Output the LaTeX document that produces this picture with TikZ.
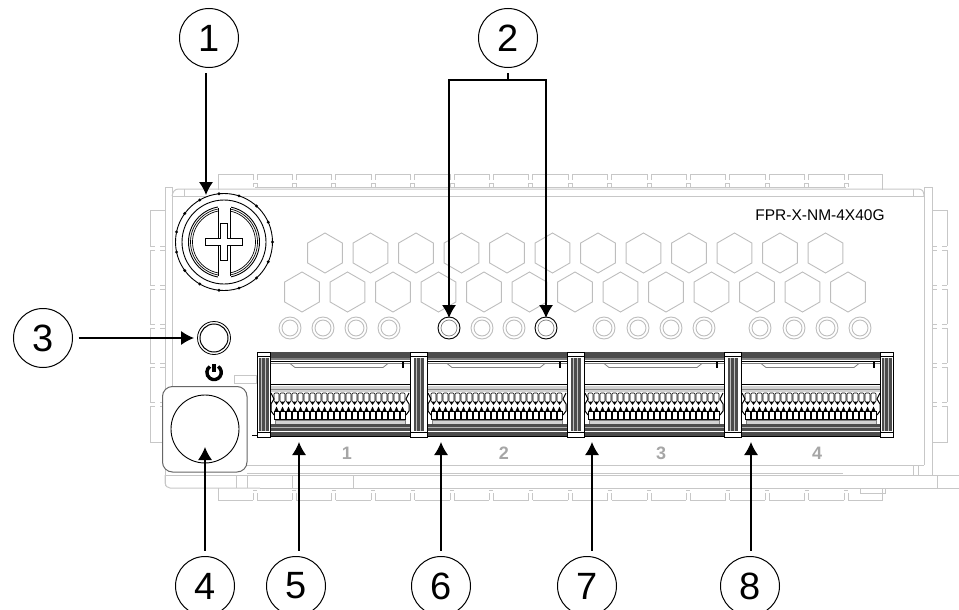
\documentclass[tikz,border=0pt]{standalone}
\usepackage{fontspec}
\setmainfont{Liberation Sans}
\usetikzlibrary{arrows.meta}
\definecolor{framegray}{gray}{0.78}
\definecolor{hexgray}{gray}{0.74}
\definecolor{bargray}{gray}{0.3}
\tikzset{
  callout/.style={draw,circle,minimum size=59pt,inner sep=0pt,line width=1pt,font=\fontsize{38}{38}\selectfont,outer sep=6pt},
  leader/.style={-{Latex[length=13pt,width=14pt]},line width=1.2pt},
  frameline/.style={draw=framegray,line width=1pt},
  hexcell/.style={draw=hexgray,line width=.9pt},
  tooth/.style={draw=black,fill=white,line width=.6pt},
  portnum/.style={text=gray!70,font=\fontsize{18}{18}\selectfont\bfseries}
}
\begin{document}
\begin{tikzpicture}[x=1pt,y=-1pt]
\clip (0,0) rectangle (959,610);
% tabs, top and bottom
\draw[frameline] (218,190) |- (882,174) -- (882,190);
\draw[frameline] (218,488) |- (882,500) -- (882,488);
\draw[frameline] (255,187) -- (846,187);
\foreach \x in {0,...,15} { % edit here for the notches
\fill[white,shift={(255+39.4*\x,0)}] (-2,173) rectangle (2,175);
\draw[frameline,shift={(255+39.4*\x,0)}] (-2,174) -- (-2,180) (2,174) -- (2,180);
\draw[frameline,shift={(255+39.4*\x,0)}] (-2,187) -- (-2,183) -- (2,183) -- (2,187);
\fill[white,shift={(255+39.4*\x,0)}] (-2,499) rectangle (2,501);
\draw[frameline,shift={(255+39.4*\x,0)}] (-2,500) -- (-2,493) (2,500) -- (2,493) (-2,490) -- (2,490);
}
% tabs, left and right
\foreach \x in {150,932} {
\draw[frameline,shift={(\x,0)}] (15,210) -| (0,442) -- (15,442) -- (15,210);
\foreach \y in {248,287,326,365,404} {
\fill[white,shift={(\x,\y)}] (-1,-2) rectangle (1,2);
\fill[white,shift={(\x,\y)}] (14,-2) rectangle (16,2);
\draw[frameline,shift={(\x,\y)}] (0,-2) -- (5,-2) (0,2) -- (5,2) (15,-2) -- (10,-2) (15,2) -- (10,2);
}
}
% plate
\draw[frameline] (165,486) -- (165,187) -- (172,187) -- (172,465);
\draw[frameline] (924,465) -- (924,187) -- (932,187) -- (932,475);
\draw[frameline] (172,196) .. controls (173,191) and (175,189) .. (179,189) -- (918,189) .. controls (922,189) and (924,191) .. (924,196);
\draw[frameline] (184,189) -- (184,196) (913,189) -- (913,196);
\draw[frameline] (172,196) -- (924,196);
\draw[frameline] (172,465) -- (924,465);
\draw[frameline] (247,473) -- (843,473);
\draw[frameline] (165,475) -- (959,475);
\draw[frameline,rounded corners=5pt] (165,475) -- (165,488) -- (260,488);
\draw[frameline] (260,488) -- (959,488);
\foreach \x in {236,247,292,353,937}
\draw[frameline] (\x,475) -- (\x,488);
\foreach \x in {913,918}
\draw[frameline] (\x,465) -- (\x,475);
\draw[frameline] (860,488) rectangle (885,493);
% hexagons
\foreach \x in {0,...,11}
\draw[hexcell,shift={(325+45.5*\x,253)}] (90:20) -- (30:20) -- (-30:20) -- (-90:20) -- (-150:20) -- (150:20) -- cycle;
\foreach \x in {0,...,12}
\draw[hexcell,shift={(302+45.5*\x,292)}] (90:20) -- (30:20) -- (-30:20) -- (-90:20) -- (-150:20) -- (150:20) -- cycle;
% light pipes
\foreach \x in {290,323,356,389,482,514,604,638,671,704,760,794,827,860} {
\draw[hexcell] (\x,328) circle (11);
\draw[hexcell] (\x,328) circle (8);
}
\foreach \x in {449,546} {
\draw[line width=.9pt] (\x,328) circle (11);
\draw[line width=.7pt,draw=gray] (\x,328) circle (8);
}
\node[font=\fontsize{15.5}{16}\selectfont] (model) at (820,215) {FPR-X-NM-4X40G};
% captive screw
\node[draw,circle,fill=white,minimum size=97pt,inner sep=0pt,line width=.9pt] (screw) at (224,242) {};
\foreach \a in {0,24,...,336}
\fill[shift={(224,242)}] (\a:48.5) circle (1.6);
\draw[line width=.9pt] (224,242) circle (42);
\draw[line width=.9pt] (224,242) circle (35.5);
\draw[line width=.7pt] (224,242) circle (33.5);
\draw[line width=.7pt] (224,242) circle (31.5);
\fill[white] (218,206) rectangle (230.5,278);
\draw[line width=.8pt] (218,208) -- (218,276) (230.5,208) -- (230.5,276);
\draw[line width=.8pt,fill=white] (220.5,223.5) -- (227.5,223.5) -- (227.5,238.5) -- (242.5,238.5) -- (242.5,245.5) -- (227.5,245.5) -- (227.5,260.5) -- (220.5,260.5) -- (220.5,245.5) -- (205.5,245.5) -- (205.5,238.5) -- (220.5,238.5) -- cycle;
% status led and power symbol
\node[draw,circle,fill=white,minimum size=33pt,inner sep=0pt,line width=.8pt] (led) at (214,338) {};
\draw[line width=1pt] (214,338) circle (14);
\draw[line width=3.4pt] (218.2,366.5) arc[start angle=-55,end angle=235,radius=7.2];
\draw[line width=3.4pt] (214,364) -- (214,372);
\draw[frameline] (234,375) rectangle (256,383);
% button
\draw[draw=gray!80!black,fill=white,line width=1pt,rounded corners=10pt] (162.5,386.5) rectangle (247,472);
\node[draw,circle,minimum size=68pt,inner sep=0pt,line width=.9pt,fill=white] (button) at (205,429) {};
% ports
\draw[line width=.8pt] (252,435) -- (257,435);
\foreach \x in {0,157,314,471} {
\begin{scope}[shift={(\x,0)}]
\fill[bargray] (270,352) rectangle (410,358);
\fill[gray] (270,358) rectangle (410,360);
\draw[line width=.6pt] (270,361.5) -- (410,361.5);
\draw[gray,line width=.7pt] (270,363.5) -- (410,363.5);
\draw[gray,line width=.8pt] (290,363.5) -- (295,367.5) -- (383,367.5) -- (388,363.5);
\draw[line width=1.2pt] (403,362) -- (403,368);
\draw[line width=.9pt] (270,384.5) -- (410,384.5);
\fill[gray!35] (270,386) rectangle (410,392);
\draw[gray,line width=.6pt] (270,389) -- (410,389);
\foreach \t in {0,...,21} {
\draw[tooth,rounded corners=1pt,shift={(274+6*\t,0)}] (0,393) rectangle (5,402);
\draw[tooth,shift={(274+6*\t,0)}] (0,411) rectangle (5,419);
\fill[shift={(274+6*\t,0)}] (.5,402) -- (4.5,402) -- (2.5,405) -- cycle;
\fill[shift={(274+6*\t,0)}] (.5,411) -- (4.5,411) -- (2.5,406.5) -- cycle;
}
\draw[line width=1pt] (271,393) -- (274,399) -- (271,404) -- (271,411) -- (274,415);
\draw[line width=1pt] (409,393) -- (406,399) -- (409,404) -- (409,411) -- (406,415);
\fill[gray!35] (275,420) rectangle (405,424);
\draw[gray,line width=.7pt] (275,424) -- (275,420.5) -- (405,420.5) -- (405,424);
\fill[bargray] (270,424) rectangle (410,436);
\draw[gray!60,line width=.8pt] (270,427) -- (410,427);
\draw[white,line width=.6pt] (270,431.5) -- (410,431.5);
\draw[line width=1pt] (270,436.5) -- (410,436.5);
\end{scope}
}
\foreach \x/\w in {263.5/6.5,418.5/8.5,575.5/8.5,732.5/8.5,886.5/6.5} {
\begin{scope}[shift={(\x,0)}]
\draw[line width=.7pt,fill=white] (-\w,352) rectangle (\w,437);
\fill[bargray] (-5,358) rectangle (5,431);
\draw[gray!50,line width=.8pt] (-2,358) -- (-2,431) (2,358) -- (2,431);
\draw[line width=.6pt] (-\w,356) -- (\w,356) (-\w,432.5) -- (\w,432.5);
\end{scope}
}
\node[portnum] (num1) at (347,453) {1};
\node[portnum] (num2) at (504,453) {2};
\node[portnum] (num3) at (661,453) {3};
\node[portnum] (num4) at (817,453) {4};
% callouts
\node[callout] (c1) at (209,38) {1};
\node[callout] (c2) at (508,38) {2};
\node[callout] (c3) at (43,338) {3};
\node[callout] (c4) at (205,586) {4};
\node[callout] (c5) at (296,586) {5};
\node[callout] (c6) at (441,586) {6};
\node[callout] (c7) at (587,586) {7};
\node[callout] (c8) at (750,586) {8};
\coordinate (t1) at (206,195);
\coordinate (b2) at (508,80);
\coordinate (t2a) at (449,318);
\coordinate (t2b) at (546,318);
\coordinate (t3) at (194,338);
\coordinate (t4) at (205,447);
\coordinate (t5) at (299,442);
\coordinate (t6) at (441,442);
\coordinate (t7) at (592,442);
\coordinate (t8) at (751,442);
\draw[leader] (c1.south -| t1) -- (t1);
\draw[line width=1.2pt] (c2) -- (b2);
\draw[leader] (b2) -| (t2a);
\draw[leader] (b2) -| (t2b);
\draw[leader] (c3) -- (t3);
\draw[leader] (c4) -- (t4);
\draw[leader] (c5.north -| t5) -- (t5);
\draw[leader] (c6) -- (t6);
\draw[leader] (c7.north -| t7) -- (t7);
\draw[leader] (c8.north -| t8) -- (t8);
\end{tikzpicture}
\end{document}
